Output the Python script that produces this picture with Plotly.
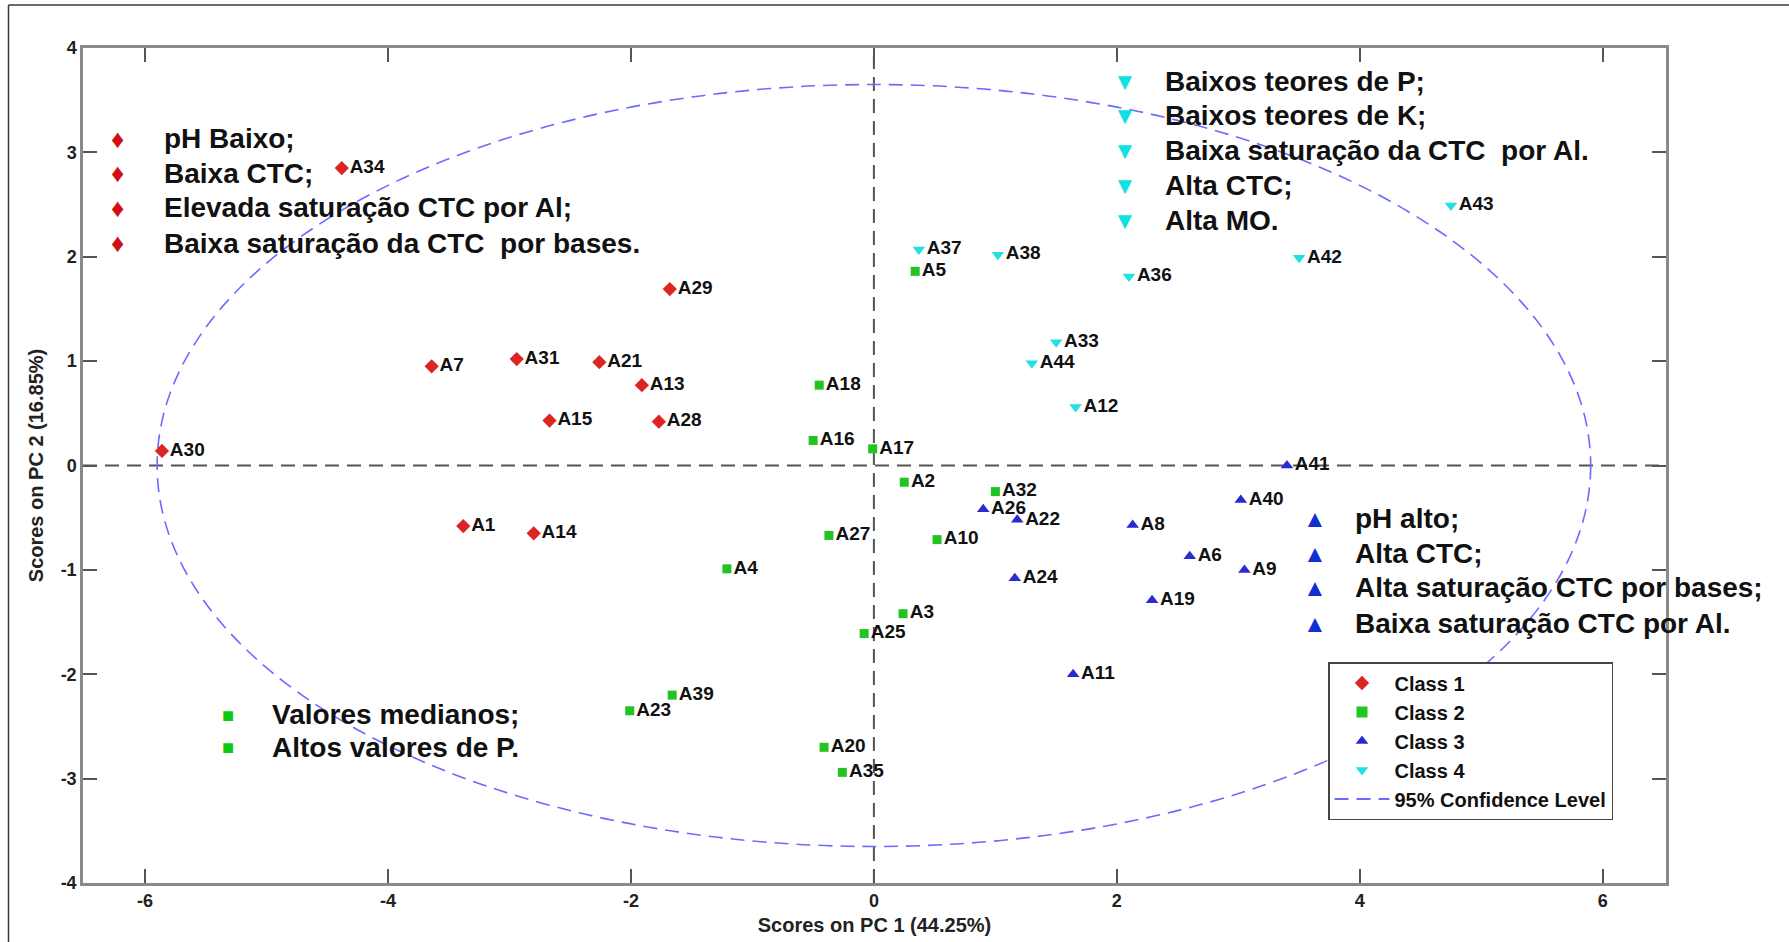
import plotly.graph_objects as go

# ---------------- data ----------------
c1_labels = ["A34", "A29", "A7", "A31", "A21", "A13", "A15", "A28", "A30", "A1", "A14"]
c1_x = [-4.38, -1.68, -3.64, -2.94, -2.26, -1.91, -2.67, -1.77, -5.86, -3.38, -2.80]
c1_y = [2.85, 1.69, 0.95, 1.02, 0.99, 0.77, 0.43, 0.42, 0.14, -0.58, -0.65]

c2_labels = ["A5", "A18", "A16", "A17", "A2", "A32", "A10", "A27", "A4", "A3", "A25",
             "A39", "A23", "A20", "A35"]
c2_x = [0.34, -0.45, -0.50, -0.01, 0.25, 1.00, 0.52, -0.37, -1.21, 0.24, -0.08,
        -1.66, -2.01, -0.41, -0.26]
c2_y = [1.86, 0.77, 0.24, 0.16, -0.16, -0.25, -0.71, -0.67, -0.99, -1.42, -1.61,
        -2.20, -2.35, -2.70, -2.94]

c3_labels = ["A26", "A22", "A41", "A40", "A8", "A6", "A9", "A24", "A19", "A11"]
c3_x = [0.90, 1.18, 3.40, 3.02, 2.13, 2.60, 3.05, 1.16, 2.29, 1.64]
c3_y = [-0.42, -0.52, 0.00, -0.33, -0.57, -0.87, -1.00, -1.08, -1.29, -2.00]

c4_labels = ["A43", "A37", "A38", "A36", "A42", "A33", "A44", "A12"]
c4_x = [4.75, 0.37, 1.02, 2.10, 3.50, 1.50, 1.30, 1.66]
c4_y = [2.49, 2.07, 2.02, 1.81, 1.99, 1.18, 0.98, 0.56]

# 95% confidence ellipse semi-axes
ell_a = 5.90
ell_b = 3.65

x_ticks = [-6, -4, -2, 0, 2, 4, 6]
x_ticktext = ["-6", "-4", "-2", "0", "2", "4", "6"]
y_ticks = [-4, -3, -2, -1, 0, 1, 2, 3, 4]
y_ticktext = ["-4", "-3", "-2", "-1", "0", "1", "2", "3", "4"]

red_notes = ["pH Baixo;", "Baixa CTC;", "Elevada saturação CTC por Al;",
             "Baixa saturação da CTC  por bases."]
red_note_y = [3.13, 2.80, 2.47, 2.13]
cyan_notes = ["Baixos teores de P;", "Baixos teores de K;",
              "Baixa saturação da CTC  por Al.", "Alta CTC;", "Alta MO."]
cyan_note_y = [3.68, 3.35, 3.02, 2.68, 2.35]
blue_notes = ["pH alto;", "Alta CTC;", "Alta saturação CTC por bases;",
              "Baixa saturação CTC por Al."]
blue_note_y = [-0.51, -0.84, -1.17, -1.51]
green_notes = ["Valores medianos;", "Altos valores de P."]
green_note_y = [-2.39, -2.70]

# ---------------- styling ----------------
FONT = "Liberation Sans, Arial, sans-serif"
RED, GREEN, BLUE, CYAN = "#dd2424", "#22c322", "#2a2ad0", "#22e0e0"
ELL = "#6b6bff"

W, H = 1789, 942
ML, MR, MT, MB = 83, 123, 48, 59

fig = go.Figure()

classes = [
    ("Class 1", c1_x, c1_y, c1_labels, "diamond", RED, 11),
    ("Class 2", c2_x, c2_y, c2_labels, "square", GREEN, 9),
    ("Class 3", c3_x, c3_y, c3_labels, "triangle-up", BLUE, 11),
    ("Class 4", c4_x, c4_y, c4_labels, "triangle-down", CYAN, 11),
]
for name, xs, ys, labs, sym, col, sz in classes:
    fig.add_trace(go.Scatter(
        x=xs, y=ys, text=labs, mode="markers+text", textposition="middle right",
        marker=dict(symbol=sym, color=col, size=sz, line=dict(width=0)),
        textfont=dict(family=FONT, size=19, color="#111111", weight="bold"),
        showlegend=False, cliponaxis=False, hoverinfo="text"))
for name, xs, ys, labs, sym, col, sz in classes:
    fig.add_trace(go.Scatter(
        x=[None], y=[None], mode="markers", name=name,
        marker=dict(symbol=sym, color=col, size=11)))
fig.add_trace(go.Scatter(
    x=[None], y=[None], mode="lines", name="95% Confidence Level",
    line=dict(color=ELL, width=2, dash="14px,8px")))

# confidence ellipse
fig.add_shape(type="circle", xref="x", yref="y", x0=-ell_a, x1=ell_a, y0=-ell_b, y1=ell_b,
              line=dict(color=ELL, width=1.6, dash="14px,8px"), layer="below")
# zero reference lines
fig.add_shape(type="line", xref="x", yref="paper", x0=0, x1=0, y0=0, y1=1,
              line=dict(color="#555555", width=2, dash="14px,8px"), layer="below")
fig.add_shape(type="line", xref="paper", yref="y", x0=0, x1=1, y0=0, y1=0,
              line=dict(color="#555555", width=2, dash="14px,8px"), layer="below")

# outer frame of the picture (top and left edges)
pw, ph = W - ML - MR, H - MT - MB
fx = (8.5 - ML) / pw
fy_top = (H - MB - 5) / ph
fy_bot = (H - MB - H) / ph
fx_right = (W - ML) / pw
fig.add_shape(type="line", xref="paper", yref="paper", x0=fx, x1=fx, y0=fy_bot, y1=fy_top,
              line=dict(color="#3a3a3a", width=1.5))
fig.add_shape(type="line", xref="paper", yref="paper", x0=fx, x1=fx_right, y0=fy_top, y1=fy_top,
              line=dict(color="#3a3a3a", width=1.5))

# note blocks
def add_block(notes, ys, bx, tx, glyph, col, gsize):
    for t, y in zip(notes, ys):
        fig.add_annotation(x=bx, y=y, xref="x", yref="y", text=glyph, showarrow=False,
                           xanchor="center", yanchor="middle",
                           font=dict(family=FONT, size=gsize, color=col))
        fig.add_annotation(x=tx, y=y, xref="x", yref="y", text=t, showarrow=False,
                           xanchor="left", yanchor="middle",
                           font=dict(family=FONT, size=28, color="#111111", weight="bold"))

add_block(red_notes, red_note_y, -6.23, -5.86, "♦", "#d01010", 26)
add_block(cyan_notes, cyan_note_y, 2.07, 2.38, "▼", "#10e0e0", 24)
add_block(blue_notes, blue_note_y, 3.63, 3.94, "▲", "#1030d0", 24)
add_block(green_notes, green_note_y, -5.32, -4.97, "■", "#10c810", 20)

axis_common = dict(showgrid=False, zeroline=False, showline=True, linecolor="#8a8a8a",
                   linewidth=2.5, mirror="ticks", ticks="inside", ticklen=14,
                   tickwidth=1.5, tickcolor="#555555",
                   tickfont=dict(family=FONT, size=18, color="#222222", weight="bold"))

fig.update_layout(
    width=W, height=H,
    margin=dict(l=ML, r=MR, t=MT, b=MB, autoexpand=False),
    paper_bgcolor="white", plot_bgcolor="white",
    xaxis=dict(range=[-6.51, 6.52], tickvals=x_ticks, ticktext=x_ticktext,
               title=dict(text="Scores on PC 1 (44.25%)", standoff=8,
                          font=dict(family=FONT, size=20, color="#222222", weight="bold")),
               **axis_common),
    yaxis=dict(range=[-4, 4], tickvals=y_ticks, ticktext=y_ticktext,
               title=dict(text="Scores on PC 2 (16.85%)", standoff=12,
                          font=dict(family=FONT, size=20, color="#222222", weight="bold")),
               **axis_common),
    legend=dict(x=(1328 - ML) / pw, y=(H - MB - 662) / ph, xanchor="left", yanchor="top",
                bordercolor="#444444", borderwidth=1.5, bgcolor="white",
                itemwidth=55,
                font=dict(family=FONT, size=20, color="#111111", weight="bold")),
    showlegend=True,
)

fig.write_html("out.html")
